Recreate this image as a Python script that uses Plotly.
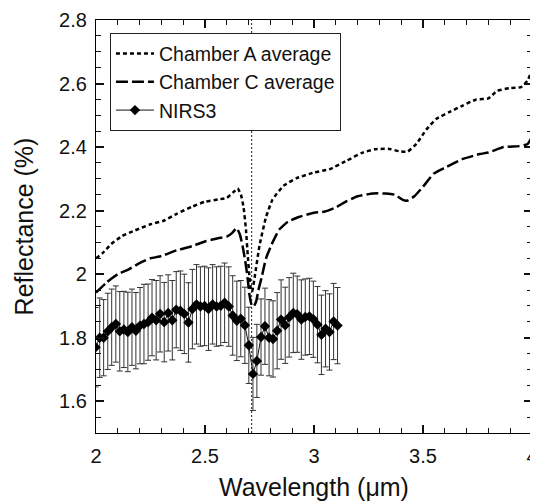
import plotly.graph_objects as go

# ---------------- data ----------------
chamber_a_wl = [2.0, 2.03, 2.07, 2.12, 2.18, 2.25, 2.31, 2.37, 2.44, 2.5, 2.56, 2.6, 2.63, 2.65,
                2.665, 2.677, 2.688, 2.696, 2.704, 2.71, 2.716, 2.722, 2.73, 2.75, 2.78, 2.81,
                2.86, 2.92, 3.0, 3.07, 3.15, 3.22, 3.28, 3.34, 3.39, 3.43, 3.47, 3.515, 3.56,
                3.62, 3.68, 3.745, 3.8, 3.84, 3.9, 3.95, 3.98, 4.0]
chamber_a_refl = [2.05, 2.066, 2.095, 2.12, 2.138, 2.157, 2.168, 2.19, 2.212, 2.228, 2.235, 2.24,
                  2.258, 2.27, 2.25, 2.21, 2.14, 2.06, 1.99, 1.955, 1.945, 1.965, 2.0, 2.09, 2.18,
                  2.235, 2.278, 2.302, 2.32, 2.33, 2.357, 2.382, 2.393, 2.395, 2.387, 2.386, 2.41,
                  2.455, 2.488, 2.51, 2.53, 2.55, 2.553, 2.577, 2.586, 2.589, 2.61, 2.643]

chamber_c_wl = [2.0, 2.05, 2.1, 2.15, 2.2, 2.25, 2.3, 2.37, 2.44, 2.5, 2.56, 2.6, 2.625, 2.645,
                2.66, 2.672, 2.685, 2.695, 2.705, 2.715, 2.725, 2.735, 2.745, 2.76, 2.78, 2.81,
                2.84, 2.88, 2.93, 3.0, 3.05, 3.1, 3.15, 3.2, 3.27, 3.33, 3.37, 3.41, 3.43, 3.46,
                3.5, 3.55, 3.6, 3.68, 3.76, 3.8, 3.87, 3.94, 3.98, 4.0]
chamber_c_refl = [1.942, 1.975, 2.0, 2.015, 2.035, 2.05, 2.057, 2.075, 2.088, 2.103, 2.113, 2.118,
                  2.13, 2.145, 2.125, 2.09, 2.04, 1.99, 1.93, 1.9, 1.9, 1.915, 1.95, 1.99, 2.05,
                  2.1, 2.14, 2.165, 2.18, 2.193, 2.197, 2.21, 2.23, 2.245, 2.254, 2.254, 2.25,
                  2.233, 2.232, 2.245, 2.275, 2.317, 2.335, 2.362, 2.378, 2.383, 2.4, 2.403,
                  2.41, 2.432]

nirs3_wl = [1.998, 2.017, 2.035, 2.054, 2.072, 2.091, 2.109, 2.128, 2.146, 2.165, 2.183, 2.202,
            2.220, 2.239, 2.257, 2.276, 2.294, 2.313, 2.331, 2.350, 2.368, 2.387, 2.405, 2.424,
            2.442, 2.461, 2.479, 2.498, 2.516, 2.535, 2.553, 2.572, 2.590, 2.609, 2.627, 2.646,
            2.664, 2.683, 2.701, 2.720, 2.738, 2.757, 2.775, 2.794, 2.812, 2.831, 2.849, 2.868,
            2.886, 2.905, 2.923, 2.942, 2.960, 2.979, 2.997, 3.016, 3.034, 3.053, 3.071, 3.090,
            3.108]
nirs3_refl = [1.77, 1.80, 1.80, 1.82, 1.833, 1.843, 1.82, 1.826, 1.818, 1.833, 1.822, 1.838,
              1.843, 1.849, 1.863, 1.855, 1.875, 1.849, 1.878, 1.855, 1.888, 1.885, 1.875, 1.848,
              1.89, 1.905, 1.898, 1.90, 1.89, 1.905, 1.898, 1.90, 1.91, 1.898, 1.87, 1.853,
              1.86, 1.839, 1.776, 1.686, 1.727, 1.802, 1.836, 1.80, 1.796, 1.822, 1.857, 1.839,
              1.864, 1.878, 1.874, 1.857, 1.865, 1.867, 1.858, 1.841, 1.809, 1.828, 1.818,
              1.851, 1.838]
nirs3_err = [0.125, 0.125, 0.12, 0.12, 0.12, 0.12, 0.125, 0.12, 0.125, 0.12, 0.12, 0.12,
             0.125, 0.12, 0.12, 0.125, 0.12, 0.125, 0.12, 0.125, 0.12, 0.125, 0.125, 0.125,
             0.125, 0.125, 0.125, 0.125, 0.13, 0.125, 0.125, 0.125, 0.125, 0.125, 0.125, 0.125,
             0.12, 0.12, 0.12, 0.115, 0.115, 0.12, 0.12, 0.12, 0.12, 0.12, 0.125, 0.12,
             0.125, 0.125, 0.12, 0.125, 0.12, 0.12, 0.12, 0.12, 0.125, 0.12, 0.12,
             0.12, 0.12]

band_position = [2.714]

FONT = "Liberation Sans, Arial, sans-serif"

fig = go.Figure()

fig.add_trace(go.Scatter(
    x=nirs3_wl, y=nirs3_refl, name="NIRS3", mode="lines+markers",
    line=dict(color="#111111", width=1),
    marker=dict(symbol="diamond", size=8, color="black"),
    error_y=dict(type="data", array=nirs3_err, visible=True, color="#333333",
                 thickness=1, width=3),
    legendrank=3,
))
fig.add_trace(go.Scatter(
    x=chamber_a_wl, y=chamber_a_refl, name="Chamber A average", mode="lines",
    line=dict(color="black", width=2.5, dash="4px,3px", shape="spline", smoothing=0.4),
    legendrank=1,
))
fig.add_trace(go.Scatter(
    x=chamber_c_wl, y=chamber_c_refl, name="Chamber C average", mode="lines",
    line=dict(color="black", width=2.5, dash="12px,4px", shape="spline", smoothing=0.4),
    legendrank=2,
))

for xv in band_position:
    fig.add_shape(type="line", xref="x", yref="paper", x0=xv, x1=xv, y0=0, y1=1,
                  line=dict(color="#222222", width=1, dash="2px,2px"), layer="below")

NO_GRID = "rgba(0,0,0,0)"

fig.update_xaxes(
    range=[2, 4], dtick=0.5, layer="above traces",
    showline=True, linecolor="black", linewidth=1.2, mirror="allticks",
    ticks="inside", ticklen=8, tickwidth=1.6, tickcolor="#111111", gridcolor=NO_GRID,
    minor=dict(dtick=0.1, ticks="inside", ticklen=5, tickwidth=1.4, tickcolor="#111111"),
    tickfont=dict(family=FONT, size=20, color="#111111"),
    ticklabelstandoff=5,
    title=dict(text="Wavelength (μm)", font=dict(family=FONT, size=25, color="#111111"), standoff=14),
)
fig.update_yaxes(
    range=[1.5, 2.8], dtick=0.2, layer="above traces",
    showline=True, linecolor="black", linewidth=1.2, mirror="allticks",
    ticks="inside", ticklen=8, tickwidth=1.6, tickcolor="#111111", gridcolor=NO_GRID,
    minor=dict(dtick=0.05, ticks="inside", ticklen=5, tickwidth=1.4, tickcolor="#111111"),
    tickfont=dict(family=FONT, size=20, color="#111111"),
    ticklabelstandoff=4,
    title=dict(text="Reflectance (%)", font=dict(family=FONT, size=25, color="#111111"), standoff=18),
)

# the page body adds an 8px offset; size the figure so the plot area lands where the reference has it
fig.update_layout(
    template="none",
    width=530, height=493,
    margin=dict(l=88, r=6, t=12, b=68),
    paper_bgcolor="white", plot_bgcolor="white",
    font=dict(family=FONT, color="#111111"),
    showlegend=True,
    legend=dict(
        x=0.032, y=0.968, xanchor="left", yanchor="top",
        bgcolor="white", bordercolor="#222222", borderwidth=1,
        font=dict(family=FONT, size=19.5, color="#111111"),
        tracegroupgap=0, itemwidth=38,
    ),
)

fig.write_html("out.html")
